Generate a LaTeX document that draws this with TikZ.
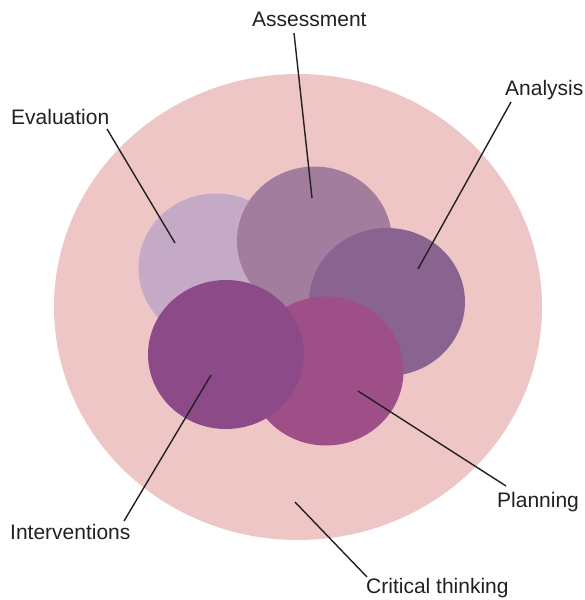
\documentclass[tikz,border=0pt]{standalone}
\usepackage{fontspec}
\setmainfont{Liberation Sans}
\usepackage{xcolor}
\usepackage{tikz}
\usetikzlibrary{shapes.geometric}

\definecolor{ringpink}{HTML}{EFC6C6}
\definecolor{evalcol}{HTML}{C5AAC8}
\definecolor{assesscol}{HTML}{A27D9E}
\definecolor{analysiscol}{HTML}{8A6491}
\definecolor{plancol}{HTML}{9E4F88}
\definecolor{intervcol}{HTML}{8C4B88}
\definecolor{inkgray}{HTML}{231F20}

\begin{document}
\begin{tikzpicture}[
    x=1pt, y=-1pt,
    blob/.style={ellipse, draw=none, inner sep=0pt, minimum width=155pt, minimum height=149pt},
    tag/.style={anchor=base west, inner sep=0pt, text=inkgray, font=\fontsize{21}{25}\selectfont},
    pointer/.style={draw=inkgray, line width=1.4pt},
]
\useasboundingbox (0,0) rectangle (584,600);

% outer ring and the five steps, back to front
\node[ellipse, fill=ringpink, inner sep=0pt, minimum width=488pt, minimum height=466pt] (ring) at (298,307) {};
\node[blob, fill=evalcol] (eval) at (216,268) {};
\node[blob, fill=assesscol] (assess) at (314.5,241) {};
\node[blob, fill=analysiscol, minimum width=156pt, minimum height=148pt] (analysis) at (387,302) {};
\node[blob, fill=plancol] (plan) at (326,371) {};
\node[blob, fill=intervcol, minimum width=156pt] (interv) at (226,354.5) {};

% labels
\node[tag] (assess_lbl) at (252,26) {Assessment};
\node[tag] (eval_lbl) at (11,124) {Evaluation};
\node[tag] (analysis_lbl) at (505,95) {Analysis};
\node[tag] (plan_lbl) at (497,507) {Planning};
\node[tag] (interv_lbl) at (10,539) {Interventions};
\node[tag] (ring_lbl) at (366,593) {Critical thinking};

% line ends
\coordinate (assess_top) at (294,33);
\coordinate (assess_pt) at (312,198);
\coordinate (eval_top) at (107,129);
\coordinate (eval_pt) at (175,243);
\coordinate (analysis_top) at (511,102);
\coordinate (analysis_pt) at (418,269);
\coordinate (plan_top) at (506,486);
\coordinate (plan_pt) at (358,391);
\coordinate (interv_top) at (124,521);
\coordinate (interv_pt) at (211,375);
\coordinate (ring_top) at (367,577);
\coordinate (ring_pt) at (295,502);

\draw[pointer] (assess_top) -- (assess_pt);
\draw[pointer] (eval_top) -- (eval_pt);
\draw[pointer] (analysis_top) -- (analysis_pt);
\draw[pointer] (plan_top) -- (plan_pt);
\draw[pointer] (interv_top) -- (interv_pt);
\draw[pointer] (ring_top) -- (ring_pt);

\end{tikzpicture}
\end{document}
